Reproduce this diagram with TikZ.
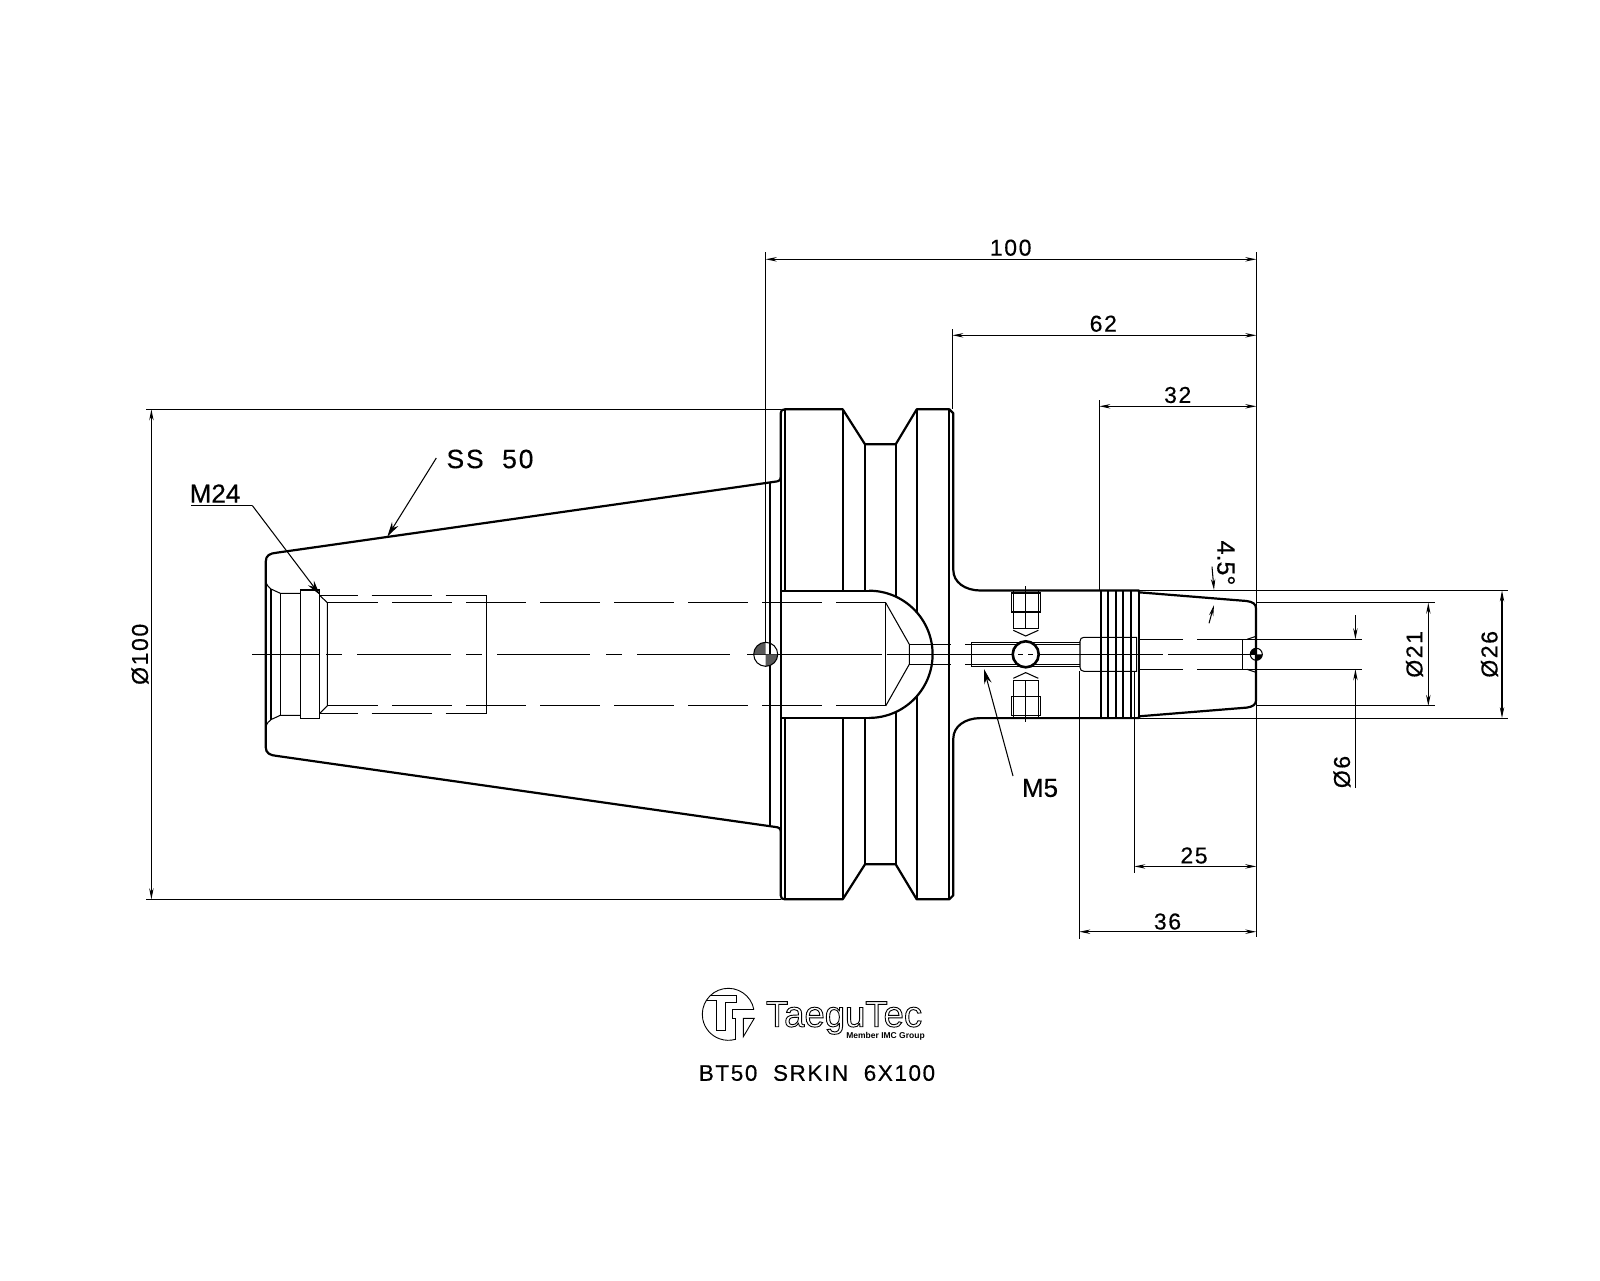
\documentclass[tikz,border=0pt]{standalone}
\usepackage{fontspec}
\setmainfont{Liberation Sans}
\newfontfamily\cadfont[LetterSpace=7,FakeBold=0.35]{Liberation Sans}
\newfontfamily\markfont[FakeBold=0.5]{Liberation Sans}
\newfontfamily\logofont{Liberation Sans}
\usetikzlibrary{arrows.meta}
\newcommand{\outlined}[1]{\special{pdf:code q 1 Tr 0.9 w}#1\special{pdf:code Q}}

\begin{document}
\begin{tikzpicture}[x=1pt,y=-1pt, heavy/.style={line width=2.2pt,line join=round}, fine/.style={line width=1.05pt},
    dim/.style={line width=1.05pt,{Stealth[length=11pt,width=4.4pt]}-{Stealth[length=11pt,width=4.4pt]}},
    tipline/.style={line width=1.05pt,-{Stealth[length=11pt,width=4.4pt]}},
    leader/.style={line width=1.05pt,-{Stealth[length=15pt,width=7.5pt]}},
    label/.style={font=\cadfont\fontsize{23}{23}\selectfont,inner sep=0pt,text=black}]
    \useasboundingbox (0,0) rectangle (1600,1280);
    % outline, upper and lower half
    \foreach \s in {1,-1} {
        \begin{scope}[shift={(0,654.3)},yscale=\s]
            \draw[heavy] (265.7,0) -- (265.7,-92.6) .. controls (265.7,-99) and (270,-101) .. (276.7,-101.6) -- (775,-172.6) .. controls (779,-173) and (780.7,-174) .. (780.7,-177.6) -- (780.7,-241) .. controls (780.7,-244) and (782,-245) .. (785,-245) -- (842.7,-245) -- (865,-210) -- (895.7,-210) -- (916.7,-245) -- (949.3,-245) -- (953.3,-241) -- (953.3,-84.3) .. controls (953.3,-72) and (965,-64) .. (980,-63.8) -- (1139,-63.8) -- (1139,-62) -- (1246.7,-53.3) .. controls (1253,-52.5) and (1256,-50) .. (1256,-46) -- (1256,0);
            \draw[heavy] (770,-172.6) -- (770,0);
            \draw[heavy] (780.7,-177.6) -- (780.7,0);
            \draw[heavy] (949.3,-245) -- (949.3,0);
            \draw[heavy] (785,-245) -- (785,-63.6);
            \draw[heavy] (842.7,-245) -- (842.7,-63.6);
            \draw[heavy] (865,-210) -- (865,-63.6);
            \draw[heavy] (895.7,-210) -- (895.7,-57.7);
            \draw[heavy] (916.7,-245) -- (916.7,-42.5);
            \draw[heavy] (780.7,-63.6) -- (869,-63.6);
            % threads on the collet nose
            \foreach \t in {1100.7,1108.3,1115.7,1123.3,1131,1139} \draw[heavy] (\t,-63.8) -- (\t,0);
            % front bore
            \draw[fine] (265.7,-72.6) .. controls (267,-69) and (269,-66.5) .. (271,-65.3) -- (280.3,-61) -- (300.3,-61);
            \draw[fine] (271,-65.3) -- (271,0);
            \draw[fine] (280.3,-61) -- (280.3,0);
            \draw[fine] (300.3,-64.3) rectangle (319.7,0);
            \draw[fine] (319.7,-59) -- (327.3,-51.6) -- (327.3,0);
            \draw[fine,dash pattern=on 60pt off 14pt,dash phase=22pt] (319.7,-59) -- (486.7,-59);
            \draw[fine] (486.7,-59) -- (486.7,0);
            \draw[fine,dash pattern=on 60pt off 14pt,dash phase=9pt] (327.3,-51.6) -- (885.7,-51.6);
            % rear bore and drill point
            \draw[fine] (885.7,-51.6) -- (909.3,-10) -- (909.3,0);
            \draw[fine] (885.7,-51.6) -- (885.7,0);
            \draw[fine] (909.3,-10) -- (950.7,-10);
            % cross hole and clamping screws
            \draw[fine] (965,-10) -- (1080,-10);
            \draw[fine] (971.7,-12.2) -- (1080,-12.2);
            \draw[fine] (971.7,-12.2) -- (971.7,0);
            \draw[fine] (1011.7,-61.3) rectangle (1040.7,-42.3);
            \draw[fine] (1013.3,-63.6) -- (1013.3,-26) -- (1038.3,-26) -- (1038.3,-63.6);
            \draw[fine] (1013.3,-24) -- (1025.7,-18.3) -- (1038.3,-24);
            % collet sleeve
            \draw[fine] (1080,0) -- (1080,-13) .. controls (1080,-15.5) and (1081.5,-17) .. (1084,-17) -- (1136.7,-17) -- (1136.7,0);
            \draw[fine] (1183,-15) -- (1139,-15);
            \draw[fine] (1197,-15) -- (1362,-15);
            \draw[fine] (1242.7,-15) -- (1242.7,0);
            \draw[fine] (1247,-15) -- (1256,-18);
            % extension lines
            \draw[fine] (781,-245) -- (146,-245);
            \draw[fine] (1139,-63.8) -- (1508,-63.8);
            \draw[fine] (1256,-51.6) -- (1435,-51.6);
        \end{scope}
    }
    \draw[heavy] (869,590.7) arc[start angle=90,end angle=-90,radius=63.6pt];
    % centre line
    \foreach \a/\b in {252/310.7,326/341.7,357/450.7,466/482,497/590,606/622,637/730,747/881.7,886.7/1163,1168/1256} \draw[fine] (\a,654.3) -- (\b,654.3);
    \draw[fine] (1025.7,586) -- (1025.7,628);
    \draw[fine] (1025.7,681) -- (1025.7,721.7);
    % hole through the ball
    \draw[line width=2.6pt,fill=white] (1025.7,654.3) circle[radius=13pt];
    \draw[fine] (1018,654.3) -- (1023,654.3) (1028,654.3) -- (1033,654.3);
    % balance marks
    \fill[black!65] (765.7,654.3) -- (753.7,654.3) arc[start angle=180,end angle=90,radius=12pt] -- cycle;
    \fill[black!65] (765.7,654.3) -- (777.7,654.3) arc[start angle=0,end angle=-90,radius=12pt] -- cycle;
    \draw[fine] (765.7,654.3) circle[radius=12pt];
    \fill (1256.3,654.3) -- (1250.3,654.3) arc[start angle=180,end angle=90,radius=6pt] -- cycle;
    \fill (1256.3,654.3) -- (1262.3,654.3) arc[start angle=0,end angle=-90,radius=6pt] -- cycle;
    \draw[fine] (1256.3,654.3) circle[radius=6pt];
    % dimensions
    \draw[fine] (765.7,252) -- (765.7,642);
    \draw[fine] (952.3,329) -- (952.3,409);
    \draw[fine] (1099.3,400) -- (1099.3,590);
    \draw[fine] (1256.3,252) -- (1256.3,937);
    \draw[fine] (1134.3,671) -- (1134.3,872.5);
    \draw[fine] (1079.3,671) -- (1079.3,939);
    \draw[dim] (765.7,259.3) -- (1256.3,259.3);
    \draw[dim] (952.3,335.3) -- (1256.3,335.3);
    \draw[dim] (1099.3,406.3) -- (1256.3,406.3);
    \draw[dim] (1134.3,866.4) -- (1256.3,866.4);
    \draw[dim] (1079.3,931.7) -- (1256.3,931.7);
    \draw[dim] (151.4,409.3) -- (151.4,899.3);
    \draw[dim] (1502,590.5) -- (1502,718.1);
    \draw[dim] (1428.3,602.7) -- (1428.3,705.9);
    \draw[tipline] (1355.4,615) -- (1355.4,639.3);
    \draw[tipline] (1355.4,788) -- (1355.4,669.3);
    \draw[tipline] (1212,566.7) -- (1214,590);
    \draw[tipline] (1209,623.3) -- (1214,605);
    % labels
    \node[label] (len100) at (1010.7,247.7) {100};
    \node[label] (len62) at (1103.3,323.7) {62};
    \node[label] (len32) at (1177.7,395) {32};
    \node[label] (len25) at (1194,855.5) {25};
    \node[label] (len36) at (1167.5,921.5) {36};
    \node[label,rotate=90] (dia100) at (140,654.3) {Ø100};
    \node[label,rotate=90] (dia26) at (1489.5,654.3) {Ø26};
    \node[label,rotate=90] (dia21) at (1414.5,654.3) {Ø21};
    \node[label,rotate=90] (dia6) at (1342,772) {Ø6};
    \node[label,font=\markfont\fontsize{25}{25}\selectfont,rotate=-90] (angle) at (1226,563) {4.5°};
    \node[label,font=\cadfont\fontsize{26.5}{26.5}\selectfont] (ss50) at (490,459) {SS\ \ 50};
    \node[label,font=\markfont\fontsize{26}{26}\selectfont] (m24) at (215,493.5) {M24};
    \node[label,font=\markfont\fontsize{26}{26}\selectfont] (m5) at (1040,788) {M5};
    % leaders
    \coordinate (m24end) at (252.3,505.5);
    \coordinate (ss50tip) at (387.3,536.7);
    \coordinate (m24tip) at (320,595);
    \coordinate (m5tip) at (984,669);
    \coordinate (m5end) at (1013,776);
    \draw[leader] (ss50.west) ++(-10,-1) -- (ss50tip);
    \draw[fine] (191,505.5) -- (m24end);
    \draw[leader] (m24end) -- (m24tip);
    \draw[leader] (m5end) -- (m5tip);
    % logo
    \draw[line width=0.9pt] (728.3,1014.3) ++(11:26pt) arc[start angle=11,end angle=286,radius=26pt];
    \draw[line width=0.9pt] (705.5,1000.7) -- (716.7,1000.7) -- (716.7,1030) -- (725,1030) -- (725,1002.7) -- (736.7,1002.7) -- (736.7,995) -- (711,995);
    \draw[line width=0.9pt] (754.3,1009.3) -- (732.3,1009.3) -- (732.3,1018.3) -- (735.7,1018.3) -- (735.7,1040);
    \draw[line width=0.9pt] (743.3,1018.3) -- (754.3,1018.3) -- (743.3,1036.7) -- cycle;
    \node[inner sep=0pt,font=\logofont\fontsize{36.5}{36.5}\selectfont] (brand) at (844,1018) {\outlined{TaeguTec}};
    \node[inner sep=0pt,font=\logofont\bfseries\fontsize{8.5}{8.5}\selectfont] (group) at (885.5,1036) {Member IMC Group};
    \node[label,font=\cadfont\fontsize{22.5}{22.5}\selectfont] (title) at (817,1073) {BT50\ \ SRKIN\ \ 6X100};
\end{tikzpicture}
\end{document}
